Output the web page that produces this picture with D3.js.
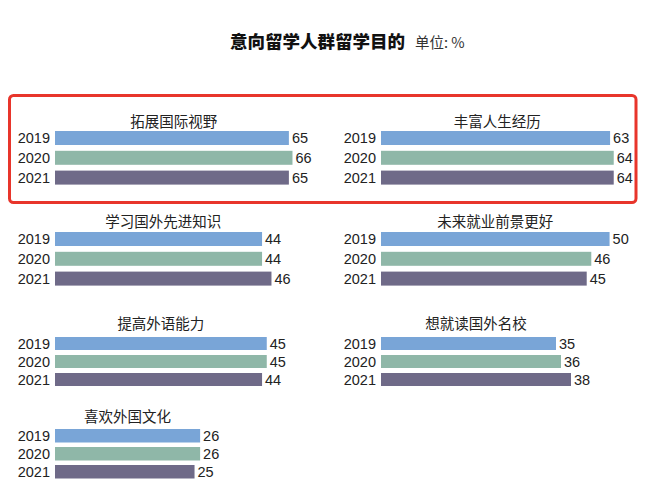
<!DOCTYPE html>
<html><head><meta charset="utf-8">
<script src="https://cdn.jsdelivr.net/npm/d3@7"></script>
<style>
html,body{margin:0;padding:0;background:#fff;}
svg{display:block;font-family:"Noto Sans CJK SC","Noto Sans",sans-serif;}
</style></head>
<body><svg id="c" width="648" height="497"></svg>
<script>
const title = "意向留学人群留学目的";
const unitLabel = "单位: %";
const categories = ["拓展国际视野","丰富人生经历","学习国外先进知识","未来就业前景更好","提高外语能力","想就读国外名校","喜欢外国文化"];
const years = ["2019","2020","2021"];
const v2019 = [65,63,44,50,45,35,26];
const v2020 = [66,64,44,46,45,36,26];
const v2021 = [65,64,46,45,44,38,25];
const axisMax = [66.7,66,51,52.5,51,48,43];
const colors = ["#79a5d7","#8fb7a8","#6f6a88"];

const svg = d3.select("#c");
const series = [v2019, v2020, v2021];
const numFont = "'Liberation Sans', Arial, sans-serif";

// layout
const colX = [55, 381];
const labelX = [50, 376];
const rows = [
  {titleY:120, barTop:131, pitch:19.8, barH:14},
  {titleY:220, barTop:232, pitch:19.8, barH:14},
  {titleY:322, barTop:337, pitch:18, barH:13},
  {titleY:415, barTop:429, pitch:18, barH:13.5}
];
const plotW = 240;

// highlight box
svg.append("rect").attr("x",9.5).attr("y",95.5).attr("width",626.5).attr("height",107)
  .attr("rx",4).attr("fill","none").attr("stroke","#e8352b").attr("stroke-width",3);

// main title
const tg = svg.append("text").attr("x",230).attr("y",48).attr("fill","#111");
tg.append("tspan").attr("font-size",17.5).attr("font-weight",900).text(title);
tg.append("tspan").attr("dx",10).attr("font-size",14.5).attr("fill","#333").text(unitLabel);

categories.forEach((cat, i) => {
  const col = i % 2, row = Math.floor(i / 2);
  const L = rows[row];
  const x = d3.scaleLinear().domain([0, axisMax[i]]).range([colX[col], colX[col] + plotW]);
  const p = 1 - L.barH / L.pitch;
  const y = d3.scaleBand().domain(years)
    .range([L.barTop - L.pitch*p/2, L.barTop - L.pitch*p/2 + 3*L.pitch])
    .paddingInner(p).paddingOuter(p/2);
  const g = svg.append("g");
  const maxV = d3.max(series, s => s[i]);
  g.append("text").attr("x", (x(0) + x(maxV)) / 2).attr("y", L.titleY)
    .attr("text-anchor","middle").attr("dominant-baseline","central")
    .attr("font-size",14.5).attr("fill","#222").text(cat);
  years.forEach((yr, k) => {
    const val = series[k][i];
    const cy = y(yr) + y.bandwidth()/2;
    g.append("rect").attr("x", x(0)).attr("y", y(yr))
      .attr("width", x(val) - x(0)).attr("height", y.bandwidth()).attr("fill", colors[k]);
    g.append("text").attr("x", labelX[col]).attr("y", cy + 5)
      .attr("text-anchor","end").style("font-family", numFont)
      .attr("font-size",14.5).attr("fill","#222").text(yr);
    g.append("text").attr("x", x(val) + 3).attr("y", cy + 5)
      .style("font-family", numFont)
      .attr("font-size",14.5).attr("fill","#222").text(val);
  });
});
</script></body></html>
